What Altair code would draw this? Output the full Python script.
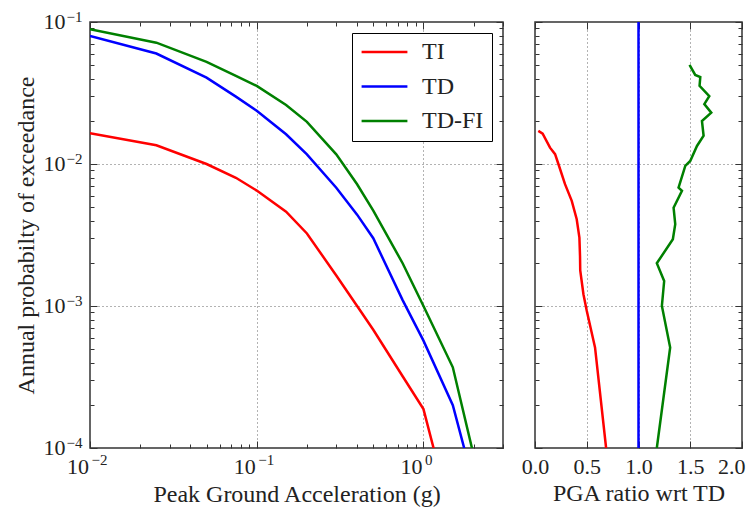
import altair as alt
import pandas as pd

# ---------------- data ----------------
series_names = ["TI", "TD", "TD-FI"]
series_colors = ["#ff0000", "#0000ff", "#008000"]

pga = [0.01, 0.025, 0.05, 0.075, 0.1, 0.15, 0.2, 0.3, 0.4, 0.5, 0.75, 1.0, 1.5, 2.0]
ti = [0.0165, 0.01355, 0.0100, 0.0080, 0.0065, 0.00462, 0.00324, 0.00164, 0.00100,
      0.00068, 0.00032, 0.000188, 0.000030, 0.000012]
td = [0.0797, 0.0600, 0.0406, 0.0298, 0.0237, 0.0162, 0.0117, 0.0068, 0.0044,
      0.0030, 0.00110, 0.00057, 0.00020, 0.000056]
tdfi = [0.0888, 0.0715, 0.0524, 0.0417, 0.0355, 0.0260, 0.0198, 0.0117, 0.0072,
        0.0047, 0.0020, 0.0010, 0.00037, 0.000089]

ratio_ti_prob = [0.0171, 0.01637, 0.01303, 0.01172, 0.0100, 0.00721, 0.0055, 0.00408,
                 0.00303, 0.00224, 0.00178, 0.00121, 0.000925, 0.000511, 0.0001]
ratio_ti = [0.032, 0.074, 0.145, 0.194, 0.226, 0.29, 0.355, 0.403,
            0.429, 0.435, 0.437, 0.468, 0.50, 0.58, 0.687]

ratio_tdfi_prob = [0.0498, 0.0424, 0.0410, 0.0355, 0.0301, 0.0264, 0.0230, 0.0201,
                   0.0158, 0.0134, 0.0105, 0.0097, 0.00682, 0.00647, 0.00493,
                   0.00377, 0.00295, 0.0020, 0.00150, 0.00100, 0.00051, 0.0001]
ratio_tdfi = [1.493, 1.548, 1.597, 1.59, 1.684, 1.636, 1.703, 1.613,
              1.629, 1.565, 1.50, 1.452, 1.387, 1.42, 1.339,
              1.355, 1.332, 1.177, 1.248, 1.226, 1.306, 1.177]

ratio_td_prob = [0.0001, 0.1]
ratio_td = [1.0, 1.0]

x_left_major = [0.01, 0.1, 1.0]
x_left_minor = [0.02, 0.03, 0.04, 0.05, 0.06, 0.07, 0.08, 0.09,
                0.2, 0.3, 0.4, 0.5, 0.6, 0.7, 0.8, 0.9, 2.0, 3.0]
y_major = [0.0001, 0.001, 0.01, 0.1]
y_minor = [m * d for d in [0.0001, 0.001, 0.01] for m in range(2, 10)]
x_right_major = [0.0, 0.5, 1.0, 1.5, 2.0]

# ---------------- frames ----------------
left_rows = []
for name, vals in zip(series_names, [ti, td, tdfi]):
    for i, (p, v) in enumerate(zip(pga, vals)):
        left_rows.append({"x": p, "y": v, "s": name, "i": i})
left_df = pd.DataFrame(left_rows)

right_rows = []
for name, xs, ys in [("TI", ratio_ti, ratio_ti_prob),
                     ("TD", ratio_td, ratio_td_prob),
                     ("TD-FI", ratio_tdfi, ratio_tdfi_prob)]:
    for i, (a, b) in enumerate(zip(xs, ys)):
        right_rows.append({"x": a, "y": b, "s": name, "i": i})
right_df = pd.DataFrame(right_rows)

FONT = "Liberation Serif"
TXT = "#222222"
FRAME = "#333333"
GRID = dict(grid=True, gridColor="#666666", gridDash=[1, 3], gridWidth=1,
            labelFlush=False, labelOverlap=False)

e = "round(log(datum.value)/LN10)"
exp_label = (f"{e} == -4 ? '\u22124' : {e} == -3 ? '\u22123' : {e} == -2 ? '\u22122' : "
             f"{e} == -1 ? '\u22121' : '0'")

color_scale = alt.Scale(domain=series_names, range=series_colors)


def tick_axis(orient, values, size):
    return alt.Axis(orient=orient, values=values, ticks=True, tickSize=size,
                    offset=-size, tickColor=FRAME, tickWidth=1, labels=False,
                    domain=False, grid=False, title=None)


def carrier(df, xscale, yscale, xax, yax):
    return alt.Chart(df).mark_line(opacity=0, clip=True).encode(
        x=alt.X("x:Q", scale=xscale, axis=xax),
        y=alt.Y("y:Q", scale=yscale, axis=yax),
        detail="s:N",
        order="i:Q",
    )


def panel(df, xscale, yscale, x_main, y_main, x_major, x_minor, legend, w, extra):
    main = alt.Chart(df).mark_line(strokeWidth=2.5, clip=True).encode(
        x=alt.X("x:Q", scale=xscale, axis=x_main),
        y=alt.Y("y:Q", scale=yscale, axis=y_main),
        color=alt.Color("s:N", scale=color_scale, legend=legend),
        order="i:Q",
        detail="s:N",
    )
    layers = [main]
    specs = [
        ("bottom", x_major, 7, "left", y_major, 7),
        ("bottom", x_minor, 4, "left", y_minor, 4),
        ("top", x_major, 7, "right", y_major, 7),
        ("top", x_minor, 4, "right", y_minor, 4),
    ]
    for xo, xv, xsz, yo, yv, ysz in specs:
        xax = tick_axis(xo, xv, xsz) if xv else None
        layers.append(carrier(df, xscale, yscale, xax, tick_axis(yo, yv, ysz)))
    for xax, yax in extra:
        layers.append(carrier(df, xscale, yscale, xax, yax))
    return alt.layer(*layers).resolve_axis(x="independent", y="independent").properties(
        width=w, height=426
    )


yscale = alt.Scale(type="log", domain=[0.0001, 0.1], nice=False)
xscale_left = alt.Scale(type="log", domain=[0.01, 3.0], nice=False)

# exponent labels (smaller, raised) for the logarithmic axes
exp_x_axis = alt.Axis(orient="bottom", values=x_left_major, labelExpr=exp_label,
                      ticks=False, domain=False, grid=False, title=None,
                      labelFontSize=15, labelAlign="left", labelOffset=1,
                      labelBaseline="alphabetic", labelPadding=16,
                      labelFlush=False, labelOverlap=False)
exp_y_axis = alt.Axis(orient="left", values=y_major, labelExpr=exp_label,
                      ticks=False, domain=False, grid=False, title=None,
                      labelFontSize=15, labelAlign="right", labelOffset=-0.5,
                      labelBaseline="alphabetic", labelPadding=8,
                      labelFlush=False, labelOverlap=False)

left = panel(
    left_df,
    xscale_left,
    yscale,
    alt.Axis(orient="bottom", values=x_left_major, labelExpr="'10'", ticks=False,
             domain=False, title="Peak Ground Acceleration (g)",
             labelAlign="right", labelOffset=-1.5, labelBaseline="alphabetic",
             labelPadding=25, titleBaseline="alphabetic", titleY=53, **GRID),
    alt.Axis(orient="left", values=y_major, labelExpr="'10'", ticks=False,
             domain=False, title="Annual probabilty of exceedance",
             labelAlign="right", labelOffset=6.5, labelBaseline="alphabetic",
             labelPadding=25, titleBaseline="alphabetic", titleX=-57, **GRID),
    x_left_major, x_left_minor,
    alt.Legend(title=None, orient="top-right", offset=11, strokeColor="#000000",
               fillColor="#ffffff", padding=8, symbolType="stroke", symbolSize=2100,
               symbolStrokeWidth=2.5, labelFont=FONT, labelFontSize=24,
               labelColor=TXT, labelOffset=13, clipHeight=22, rowPadding=10.5,
               cornerRadius=0),
    413,
    [(exp_x_axis, exp_y_axis)],
)

right = panel(
    right_df,
    alt.Scale(domain=[0.0, 2.0], nice=False, zero=False),
    yscale,
    alt.Axis(orient="bottom", values=x_right_major, format=".1f", ticks=False,
             domain=False, title="PGA ratio wrt TD", labelBaseline="alphabetic",
             labelAlign={"condition": {"test": "datum.value >= 2", "value": "right"},
                         "value": "center"},
             labelOffset={"condition": {"test": "datum.value >= 2", "value": 3},
                          "value": 0},
             labelPadding=25, titleBaseline="alphabetic", titleY=52, **GRID),
    alt.Axis(orient="left", values=y_major, labels=False, ticks=False, domain=False,
             title=None, **GRID),
    x_right_major, None,
    None,
    207,
    [],
)

chart = (
    alt.hconcat(left, right, spacing=32, bounds="flush")
    .resolve_scale(color="independent")
    .properties(padding={"left": 5, "top": 0, "right": 0, "bottom": 0},
                background="#ffffff")
    .configure_view(stroke=FRAME, strokeWidth=1.5)
    .configure_axis(labelFont=FONT, labelFontSize=22, labelColor=TXT,
                    titleFont=FONT, titleFontSize=24, titleColor=TXT,
                    titleFontWeight="normal")
)

chart.save("out.html", embed_options={"renderer": "svg", "actions": False})
